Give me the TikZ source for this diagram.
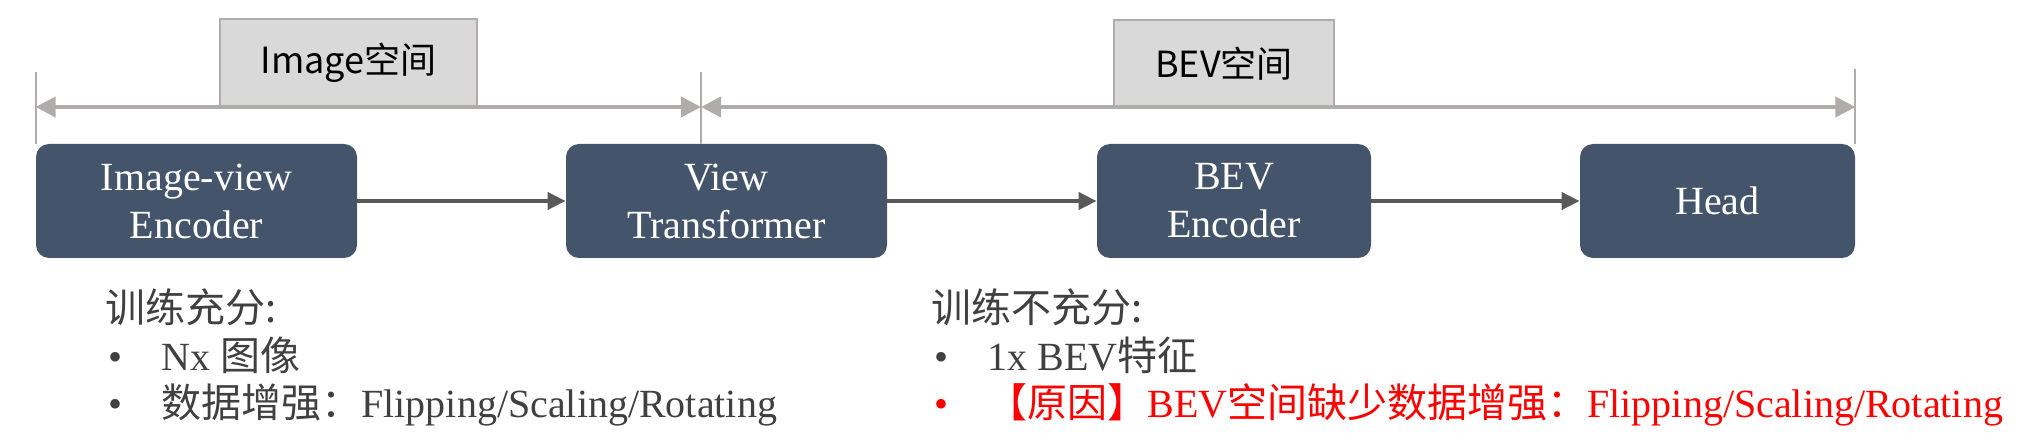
\documentclass[tikz,border=0pt]{standalone}
\usepackage{fontspec}
\setmainfont{Liberation Serif}
\newfontfamily\cjk{Noto Sans CJK SC}
\usetikzlibrary{arrows.meta}

\definecolor{boxblue}{HTML}{44546A}
\definecolor{flowgray}{HTML}{595959}
\definecolor{spangray}{HTML}{B0ACAC}
\definecolor{labelgray}{HTML}{D9D9D9}
\definecolor{notegray}{HTML}{404040}

\tikzset{
  blockbox/.style={fill=boxblue,rounded corners=6.5pt,text=white,align=center,minimum height=57pt,inner sep=0pt,font=\fontsize{20}{24}\selectfont},
  flowarrow/.style={draw=flowgray,line width=2pt,-{Triangle[length=9pt,width=8.5pt]}},
  spanarrow/.style={draw=spangray,line width=2pt,{Triangle[length=10pt,width=10pt]}-{Triangle[length=10pt,width=10pt]}},
  tickline/.style={draw=spangray,line width=1pt},
  spacebox/.style={draw=spangray,fill=labelgray,line width=0.8pt,minimum height=43.5pt,inner sep=0pt,font=\cjk\fontsize{18}{20}\selectfont},
  notetext/.style={anchor=base west,inner sep=0pt,text=notegray,font=\fontsize{20}{24}\selectfont}
}
\newcommand{\bul}{\makebox[26.5pt][l]{•}}

\begin{document}
\begin{tikzpicture}[x=0.5pt,y=-0.5pt]
\useasboundingbox (0,0) rectangle (2034,448);

% space labels
\node[spacebox,minimum width=128.5pt] (imgspace) at (348.5,62.5) {Image空间};
\node[spacebox,minimum width=110pt] (bevspace) at (1224,63.5) {BEV空间};

% pipeline
\node[blockbox,minimum width=160.5pt] (enc) at (196.5,201) {Image-view\\Encoder};
\node[blockbox,minimum width=160.5pt] (vt) at (726.5,201) {View\\Transformer};
\node[blockbox,minimum width=137pt] (bevenc) at (1234,201) {BEV\\Encoder};
\node[blockbox,minimum width=137.5pt] (head) at (1717.5,201) {Head};

\draw[flowarrow] (enc) -- (vt);
\draw[flowarrow] (vt) -- (bevenc);
\draw[flowarrow] (bevenc) -- (head);

% ranges
\coordinate (spanL) at (enc.north west |- 0,107);
\coordinate (spanM) at (701,107);
\coordinate (spanR) at (head.north east |- 0,107);
\draw[tickline] (enc.north west) -- ++(0,-72);
\draw[tickline] (701,144) -- (701,72);
\draw[tickline] (head.north east) -- ++(0,-75);
\draw[spanarrow] (spanL) -- (spanM);
\draw[spanarrow] (spanM) -- (spanR);

% notes
\node[notetext] (lhead) at (105,323) {{\cjk 训练充分:}};
\node[notetext] (lnx) at (108,371) {\bul Nx {\cjk 图像}};
\node[notetext] (laug) at (108,418) {\bul{\cjk 数据增强：}Flipping/Scaling/Rotating};

\node[notetext] (rhead) at (931,323) {{\cjk 训练不充分:}};
\node[notetext] (rbev) at (934,371) {\bul 1x BEV{\cjk 特征}};
\node[notetext,text=red] (rwhy) at (934,418) {\bul{\cjk 【原因】}BEV{\cjk 空间缺少数据增强：}Flipping/Scaling/Rotating};

\end{tikzpicture}
\end{document}
